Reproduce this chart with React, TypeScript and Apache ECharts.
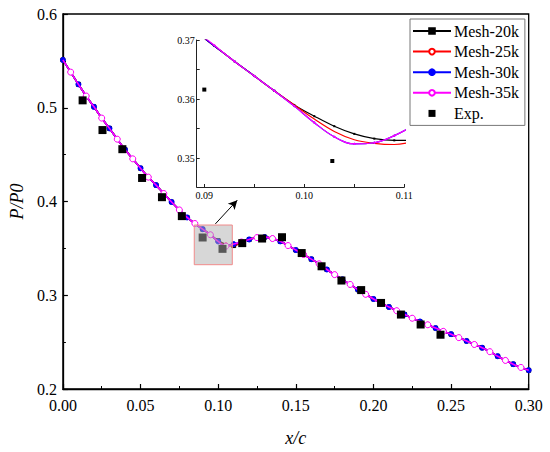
import React, { useEffect, useRef } from 'react';
import * as echarts from 'echarts';

const FONT = '"Liberation Serif", "Times New Roman", serif';

// Shared x sampling of the simulated curves (x/c)
const meshX = [
  0.000, 0.005, 0.010, 0.015, 0.020, 0.025, 0.030, 0.035, 0.040, 0.045,
  0.050, 0.055, 0.060, 0.065, 0.070, 0.075, 0.080, 0.085, 0.090, 0.095,
  0.100, 0.105, 0.110, 0.115, 0.120, 0.125, 0.130, 0.135, 0.140, 0.145,
  0.150, 0.155, 0.160, 0.165, 0.170, 0.175, 0.180, 0.185, 0.190, 0.195,
  0.200, 0.205, 0.210, 0.215, 0.220, 0.225, 0.230, 0.235, 0.240, 0.245,
  0.250, 0.255, 0.260, 0.265, 0.270, 0.275, 0.280, 0.285, 0.290, 0.295,
  0.300,
];

// Common P/P0 values (all meshes overlap on the main scale)
const meshY = [
  0.551, 0.538, 0.525, 0.5125, 0.501, 0.489, 0.478, 0.4665, 0.4555, 0.4455,
  0.4355, 0.426, 0.4175, 0.4085, 0.3995, 0.391, 0.383, 0.3765, 0.3705, 0.3645,
  0.3582, 0.3535, 0.354, 0.3568, 0.3595, 0.3615, 0.362, 0.3605, 0.3575, 0.353,
  0.3482, 0.3435, 0.3385, 0.3335, 0.3275, 0.322, 0.317, 0.3115, 0.306, 0.301,
  0.296, 0.2915, 0.2875, 0.2835, 0.2795, 0.2755, 0.272, 0.2685, 0.265, 0.2615,
  0.2585, 0.2548, 0.2512, 0.2475, 0.244, 0.2398, 0.235, 0.2305, 0.2265, 0.223,
  0.22,
];

// Per-mesh values at x = 0.100, 0.105, 0.110 (where they differ)
const dipStart = 20;
const dip20 = [0.3582, 0.3541, 0.353];
const dip25 = [0.3578, 0.3531, 0.3527];
const dip30 = [0.3574, 0.3524, 0.3546];
const dip35 = [0.3574, 0.3524, 0.3546];

// Inset (zoomed) curves
const insetX = [0.089, 0.091, 0.093, 0.095, 0.097, 0.099, 0.101, 0.103, 0.105, 0.107, 0.109, 0.111];
const inset20 = [0.3716, 0.369, 0.3664, 0.3639, 0.3614, 0.359, 0.3571, 0.3554, 0.3541, 0.3533, 0.353, 0.353];
const inset25 = [0.3716, 0.369, 0.3664, 0.3639, 0.3614, 0.359, 0.3566, 0.3545, 0.3531, 0.3525, 0.3523, 0.3529];
const inset30 = [0.3716, 0.369, 0.3664, 0.3639, 0.3614, 0.3588, 0.356, 0.3536, 0.3524, 0.3526, 0.3538, 0.3556];
const inset35 = [0.3718, 0.3691, 0.3664, 0.3639, 0.3614, 0.3588, 0.356, 0.3536, 0.3524, 0.3526, 0.3538, 0.3556];

// Experimental data
const expX = [0.0127, 0.0255, 0.0383, 0.051, 0.0638, 0.0766, 0.09, 0.1028, 0.1155, 0.1283,
  0.1411, 0.1538, 0.1666, 0.1794, 0.1921, 0.2049, 0.2177, 0.2304, 0.2432];
const expY = [0.5079, 0.4762, 0.4558, 0.4251, 0.4046, 0.3844, 0.3616, 0.3495, 0.3556, 0.3605,
  0.3619, 0.345, 0.3309, 0.3157, 0.3055, 0.2918, 0.2794, 0.2688, 0.2579];

// Ticks
const insetXLabels = [0.09, 0.1, 0.11];
const insetXTicks = [0.09, 0.095, 0.1, 0.105, 0.11];
const insetYLabels = [0.35, 0.36, 0.37];
const insetYTicks = [0.35, 0.355, 0.36, 0.365, 0.37];

// Zoom box and arrow (data coordinates)
const zoomBox = [[0.0846, 0.3749], [0.1091, 0.3326]];
const arrowLine = [[0.0982, 0.3761], [0.1123, 0.4014]];

const meshNames = ['Mesh-20k', 'Mesh-25k', 'Mesh-30k', 'Mesh-35k'];

const meshDefs = [
  { name: meshNames[0], color: '#000000', symbol: 'rect', size: 4, fill: '#000000', dip: dip20, inset: inset20, phase: 0 },
  { name: meshNames[1], color: '#ff0000', symbol: 'circle', size: 5, fill: '#ffffff', dip: dip25, inset: inset25, phase: 1 },
  { name: meshNames[2], color: '#0000ff', symbol: 'circle', size: 5, fill: '#0000ff', dip: dip30, inset: inset30, phase: 0 },
  { name: meshNames[3], color: '#ff00ff', symbol: 'circle', size: 6, fill: '#ffffff', dip: dip35, inset: inset35, phase: 1 },
];

function buildOption() {
  const series: any[] = [];
  meshDefs.forEach((d, k) => {
    const ys = meshY.slice();
    d.dip.forEach((v, j) => { ys[dipStart + j] = v; });
    series.push({
      name: d.name,
      type: 'line',
      xAxisIndex: 0,
      yAxisIndex: 0,
      smooth: 0.4,
      symbol: d.symbol,
      symbolSize: d.size,
      showSymbol: true,
      z: 3 + k,
      lineStyle: { color: d.color, width: 1.6 },
      itemStyle: { color: d.fill, borderColor: d.color, borderWidth: 1 },
      data: meshX.map((x, i) => ({
        value: [x, ys[i]],
        symbol: i % 2 === d.phase ? d.symbol : 'none',
      })),
    });
  });
  series.push({
    name: 'Exp.',
    type: 'scatter',
    xAxisIndex: 0,
    yAxisIndex: 0,
    symbol: 'rect',
    symbolSize: 8,
    z: 10,
    itemStyle: { color: '#000000', opacity: 1 },
    data: expX.map((x, i) => [x, expY[i]]),
  });
  // zoom box and arrow
  series.push({
    name: 'annot',
    type: 'line',
    xAxisIndex: 0,
    yAxisIndex: 0,
    z: 20,
    data: [],
    markArea: {
      silent: true,
      z: 20,
      itemStyle: { color: 'rgba(175,175,175,0.5)', borderColor: '#f08a8a', borderWidth: 1 },
      data: [[{ coord: zoomBox[0] }, { coord: zoomBox[1] }]],
    },
    markLine: {
      silent: true,
      symbol: ['none', 'arrow'],
      symbolSize: [7, 9],
      label: { show: false },
      lineStyle: { color: '#000000', width: 1, type: 'solid' },
      data: [[{ coord: arrowLine[0] }, { coord: arrowLine[1] }]],
    },
  });
  // inset series
  meshDefs.forEach((d, k) => {
    series.push({
      name: 'inset ' + d.name,
      type: 'line',
      xAxisIndex: 1,
      yAxisIndex: 1,
      smooth: 0.4,
      symbol: d.symbol,
      symbolSize: 2,
      showSymbol: k !== 1,
      z: 30 + k,
      clip: true,
      lineStyle: { color: d.color, width: 1.2 },
      itemStyle: { color: d.color },
      data: insetX.map((x, i) => [x, d.inset[i]]),
    });
  });
  series.push({
    name: 'inset Exp.',
    type: 'scatter',
    xAxisIndex: 1,
    yAxisIndex: 1,
    symbol: 'rect',
    symbolSize: 4,
    z: 35,
    clip: true,
    itemStyle: { color: '#000000', opacity: 1 },
    data: expX.map((x, i) => [x, expY[i]]),
  });

  return {
    animation: false,
    textStyle: { fontFamily: FONT },
    legend: {
      data: [...meshNames, { name: 'Exp.', icon: 'path://M0,0L8,0L8,8L0,8Z' }],
      orient: 'vertical',
      left: 410,
      top: 19,
      itemWidth: 38,
      itemHeight: 7,
      itemGap: 4.6,
      padding: [4, 6, 4, 2],
      borderColor: '#777777',
      borderWidth: 1,
      backgroundColor: '#ffffff',
      selectedMode: false,
      z: 40,
      textStyle: { fontSize: 16, color: '#000000', fontFamily: FONT, lineHeight: 15.5, padding: [0, 0, 0, -2] },
    },
    grid: [
      { left: 59.5, right: 21.3, top: 14, bottom: 59.3, show: true, borderColor: '#000000', borderWidth: 1.3 },
      { left: 196.7, right: 145.7, top: 40, bottom: 265, show: true, backgroundColor: '#ffffff', borderWidth: 0 },
    ],
    xAxis: [
      {
        type: 'value', gridIndex: 0, min: 0, max: 0.3, interval: 0.05,
        name: 'x/c', nameLocation: 'middle', nameGap: 40,
        nameTextStyle: { fontStyle: 'italic', fontSize: 18, color: '#000000', fontFamily: FONT },
        axisLine: { lineStyle: { color: '#000000', width: 1.3 } },
        axisTick: { inside: true, length: 5, lineStyle: { color: '#000000', width: 1.2 } },
        minorTick: { show: true, splitNumber: 2, length: 3, lineStyle: { color: '#000000', width: 1 } },
        splitLine: { show: false },
        minorSplitLine: { show: false },
        axisLabel: { formatter: (v: number) => v.toFixed(2), fontSize: 16, color: '#000000', margin: 8, fontFamily: FONT },
      },
      {
        type: 'value', gridIndex: 1, min: 0.08924, max: 0.11,
        axisLine: { lineStyle: { color: '#222222', width: 1 } },
        axisTick: { inside: true, length: 3, customValues: insetXTicks, lineStyle: { color: '#222222', width: 1 } },
        splitLine: { show: false },
        axisLabel: { customValues: insetXLabels, formatter: (v: number) => v.toFixed(2), fontSize: 10, color: '#000000', margin: 3, fontFamily: FONT },
      },
    ],
    yAxis: [
      {
        type: 'value', gridIndex: 0, min: 0.2, max: 0.6, interval: 0.1,
        name: 'P/P0', nameLocation: 'middle', nameGap: 33,
        nameTextStyle: { fontStyle: 'italic', fontSize: 18, color: '#000000', fontFamily: FONT },
        axisLine: { lineStyle: { color: '#000000', width: 1.3 } },
        axisTick: { inside: true, length: 5, lineStyle: { color: '#000000', width: 1.2 } },
        minorTick: { show: true, splitNumber: 2, length: 3, lineStyle: { color: '#000000', width: 1 } },
        splitLine: { show: false },
        minorSplitLine: { show: false },
        axisLabel: { formatter: (v: number) => v.toFixed(1), fontSize: 16, color: '#000000', margin: 6, fontFamily: FONT },
      },
      {
        type: 'value', gridIndex: 1, min: 0.3451, max: 0.37,
        axisLine: { lineStyle: { color: '#222222', width: 1 } },
        axisTick: { inside: true, length: 3, customValues: insetYTicks, lineStyle: { color: '#222222', width: 1 } },
        splitLine: { show: false },
        axisLabel: { customValues: insetYLabels, formatter: (v: number) => v.toFixed(2), fontSize: 10, color: '#000000', margin: 2, fontFamily: FONT },
      },
    ],
    series,
  };
}

export default function App() {
  const ref = useRef<HTMLDivElement>(null);
  useEffect(() => {
    document.body.style.margin = '0';
    const chart = echarts.init(ref.current as HTMLDivElement, null, { renderer: 'svg' });
    chart.setOption(buildOption() as any);
    return () => chart.dispose();
  }, []);
  return <div ref={ref} style={{ position: 'absolute', left: 0, top: 0, width: 550, height: 452 }} />;
}
